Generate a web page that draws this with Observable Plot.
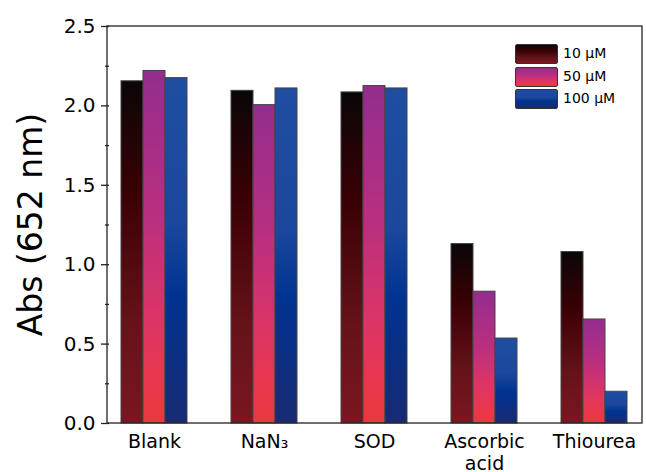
<!DOCTYPE html>
<html>
<head>
<meta charset="utf-8">
<script src="https://cdn.jsdelivr.net/npm/d3@7"></script>
<script src="https://cdn.jsdelivr.net/npm/@observablehq/plot@0.6"></script>
<style>
  html, body { margin: 0; padding: 0; background: #fff; }
  #wrap { position: relative; width: 646px; height: 472px; font-family: "DejaVu Sans", sans-serif; }
  .lg-item { position: absolute; left: 515px; height: 19px; width: 160px; }
  .lg-sw { position: absolute; left: 0; top: 0; width: 41px; height: 18px; border: 1px solid #333; border-radius: 2px; }
  .lg-tx { position: absolute; left: 48px; top: 0; font-size: 14px; line-height: 19px; color: #000; white-space: nowrap; }
</style>
</head>
<body>
<div id="wrap"></div>
<script>
// ---- data ----
const categories = ["Blank", "NaN3", "SOD", "Ascorbic acid", "Thiourea"];
const categoryLabels = ["Blank", "NaN₃", "SOD", "Ascorbic\nacid", "Thiourea"];
const series = ["10 µM", "50 µM", "100 µM"];
const v10  = [2.155, 2.095, 2.085, 1.130, 1.080];
const v50  = [2.220, 2.005, 2.125, 0.830, 0.655];
const v100 = [2.175, 2.110, 2.110, 0.535, 0.200];
const yTicks = [0, 0.5, 1.0, 1.5, 2.0, 2.5];
const yMinor = [0.25, 0.75, 1.25, 1.75, 2.25];
const yLabel = "Abs (652 nm)";

// ---- styles (vertical gradients per series) ----
const gradientStops = [
  [[0, "#0a0607"], [0.33, "#3a0005"], [0.7, "#651219"], [1, "#7b1620"]],
  [[0, "#932d8e"], [0.4, "#b82f80"], [0.68, "#da3468"], [0.88, "#e8374e"], [1, "#e9393d"]],
  [[0, "#1f4ea0"], [0.42, "#1b479d"], [0.63, "#003391"], [1, "#182a72"]]
];

const W = 646, H = 472, ML = 107, MR = 4, MT = 26, MB = 49;

const valuesBySeries = [v10, v50, v100];
const rows = categories.flatMap((c, i) =>
  series.map((s, j) => ({category: c, series: s, value: valuesBySeries[j][i]}))
);
const gradId = s => "grad" + series.indexOf(s);
const labelOf = c => categoryLabels[categories.indexOf(c)];

const chart = Plot.plot({
  width: W,
  height: H,
  marginLeft: ML,
  marginRight: MR,
  marginTop: MT,
  marginBottom: MB,
  style: {fontFamily: "DejaVu Sans, sans-serif", background: "#fff", color: "#000"},
  fx: {domain: categories, paddingInner: 0.18, paddingOuter: 0, label: null},
  x: {domain: series, paddingInner: 0, paddingOuter: 0.52, axis: null},
  y: {domain: [0, 2.5], label: null},
  color: {type: "identity"},
  marks: [
    Plot.barY(rows, {
      fx: "category", x: "series", y: "value",
      fill: d => `url(#${gradId(d.series)})`,
      stroke: "#444", strokeWidth: 1
    }),
    Plot.axisY({ticks: yTicks, tickSize: 8, tickPadding: 6, tickFormat: d3.format(".1f"),
      fontSize: 20, label: null, stroke: "#222", strokeWidth: 1.3}),
    Plot.axisY({ticks: yMinor, tickSize: 4, tickFormat: () => "", label: null,
      stroke: "#222", strokeWidth: 1.3}),
    Plot.axisFx({anchor: "bottom", tickSize: 0, tickPadding: 9, fontSize: 19, tickFormat: labelOf,
      label: null, lineHeight: 1.15})
  ]
});

const svg = d3.select(chart);
// gradient definitions
const defs = svg.insert("defs", ":first-child");
series.forEach((s, k) => {
  const lg = defs.append("linearGradient").attr("id", gradId(s))
    .attr("x1", 0).attr("y1", 0).attr("x2", 0).attr("y2", 1);
  gradientStops[k].forEach(([o, c]) => lg.append("stop").attr("offset", o).attr("stop-color", c));
});

// outer frame around the plotting area, from the y scale range
const yr = chart.scale("y").range;
const yTop = Math.min(...yr), yBot = Math.max(...yr);
svg.append("rect")
  .attr("x", ML).attr("y", yTop).attr("width", W - ML - MR).attr("height", yBot - yTop)
  .attr("fill", "none").attr("stroke", "#222").attr("stroke-width", 1.3);

// y-axis title
svg.append("text")
  .attr("transform", `translate(30,${(yTop + yBot) / 2}) rotate(-90)`)
  .attr("text-anchor", "middle").attr("dy", "0.35em")
  .attr("font-size", 33).attr("fill", "#000")
  .text(yLabel);

const wrap = document.getElementById("wrap");
wrap.appendChild(chart);

// legend (inside plot, top right)
const legendTops = [44, 66.5, 89];
series.forEach((s, k) => {
  const item = document.createElement("div");
  item.className = "lg-item";
  item.style.top = legendTops[k] + "px";
  const sw = document.createElement("div");
  sw.className = "lg-sw";
  sw.style.background = "linear-gradient(to bottom, " +
    gradientStops[k].map(([o, c]) => `${c} ${o * 100}%`).join(", ") + ")";
  const tx = document.createElement("div");
  tx.className = "lg-tx";
  tx.textContent = s;
  item.appendChild(sw);
  item.appendChild(tx);
  wrap.appendChild(item);
});
</script>
</body>
</html>
